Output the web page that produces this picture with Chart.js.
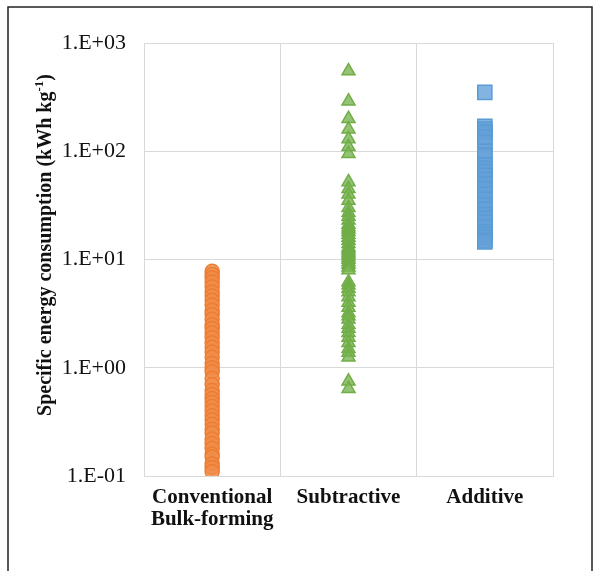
<!DOCTYPE html>
<html lang="en">
  <head>
    <meta charset="UTF-8" />
    <title>Specific energy consumption</title>
    <script src="https://cdn.jsdelivr.net/npm/chart.js@4.4.1/dist/chart.umd.min.js"></script>
    <style>
      html, body { margin: 0; padding: 0; background: #fff; }
    </style>
  </head>
  <body>
    <canvas id="chart" width="600" height="571"></canvas>
    <script>
      // categories and tick labels
      const categories = ['Conventional Bulk-forming', 'Subtractive', 'Additive'];
      const categoryLabels = [['Conventional', 'Bulk-forming'], 'Subtractive', 'Additive'];
      const yTickValues = [0.1, 1, 10, 100, 1000];
      const yTickLabels = ['1.E-01', '1.E+00', '1.E+01', '1.E+02', '1.E+03'];

      // values (kWh/kg)
      const bulkForming = [7.8, 7.3, 6.8, 6.2, 5.6, 5.0, 4.6, 4.2, 3.8, 3.4, 3.1, 2.8, 2.5, 2.3,
        2.1, 1.9, 1.7, 1.55, 1.4, 1.25, 1.1, 1.0, 0.92, 0.8, 0.7, 0.62, 0.57, 0.52, 0.48, 0.44,
        0.4, 0.36, 0.33, 0.3, 0.27, 0.25, 0.22, 0.2, 0.18, 0.16, 0.15, 0.13, 0.12, 0.11];
      const subtractive = [550, 290, 200, 160, 130, 110, 95, 52, 45, 40, 35, 30, 27, 25, 23, 21,
        20, 19, 18, 17, 16, 15, 14, 13, 12.5, 12, 11.5, 11, 10.5, 10, 9.5, 9, 8.5, 8, 6.2, 5.8,
        5.4, 5.0, 4.5, 4.0, 3.6, 3.2, 3.0, 2.8, 2.5, 2.3, 2.1, 1.9, 1.7, 1.5, 1.38, 1.25, 0.75, 0.64];
      const additive = [350, 170, 160, 150, 135, 120, 100, 92, 75, 70, 65, 60, 55, 50, 45, 40, 36,
        32, 29, 26, 24, 22, 20, 18, 17, 16, 15, 14.5];

      const serif = "'Liberation Serif', 'Times New Roman', serif";

      function toPoints(cat, values) {
        return values.map(v => ({ x: cat, y: v }));
      }

      // outer frame + rotated y title with superscript
      const decorations = {
        id: 'decorations',
        beforeDraw(chart) {
          const c = chart.ctx;
          c.save();
          c.fillStyle = '#fff';
          c.fillRect(0, 0, chart.width, chart.height);
          c.restore();
        },
        afterDraw(chart) {
          const c = chart.ctx;
          c.save();
          c.strokeStyle = '#222';
          c.lineWidth = 1.5;
          c.beginPath();
          c.moveTo(8, 600);
          c.lineTo(8, 7);
          c.lineTo(592, 7);
          c.lineTo(592, 600);
          c.stroke();

          c.translate(46, 245);
          c.rotate(-Math.PI / 2);
          c.fillStyle = '#111';
          c.textBaseline = 'middle';
          const main = 'Specific energy consumption (kWh kg';
          const sup = '-1';
          const close = ')';
          c.font = 'bold 20px ' + serif;
          const w1 = c.measureText(main).width;
          const w3 = c.measureText(close).width;
          c.font = 'bold 13px ' + serif;
          const w2 = c.measureText(sup).width;
          let x = -(w1 + w2 + w3) / 2;
          c.font = 'bold 20px ' + serif;
          c.fillText(main, x, 0);
          x += w1;
          c.font = 'bold 13px ' + serif;
          c.fillText(sup, x, -6);
          x += w2;
          c.font = 'bold 20px ' + serif;
          c.fillText(close, x, 0);
          c.restore();
        }
      };

      const ctx = document.getElementById('chart').getContext('2d');
      const chart = new Chart(ctx, {
        type: 'scatter',
        data: {
          labels: categories,
          datasets: [
            {
              label: 'Conventional Bulk-forming',
              data: toPoints(categories[0], bulkForming),
              pointStyle: 'circle',
              pointRadius: 7,
              borderColor: '#ED7D31',
              backgroundColor: 'rgba(240, 140, 72, 0.8)',
              borderWidth: 1.5,
            },
            {
              label: 'Subtractive',
              data: toPoints(categories[1], subtractive),
              pointStyle: 'triangle',
              pointRadius: 7.5,
              borderColor: '#70AD47',
              backgroundColor: 'rgba(120, 180, 80, 0.8)',
              borderWidth: 1.5,
            },
            {
              label: 'Additive',
              data: toPoints(categories[2], additive),
              pointStyle: 'rect',
              pointRadius: 10,
              borderColor: '#5B9BD5',
              backgroundColor: 'rgba(100, 160, 216, 0.8)',
              borderWidth: 1.5,
            },
          ],
        },
        options: {
          responsive: false,
          animation: false,
          layout: { padding: { left: 0, right: 47, top: 43, bottom: 0 } },
          plugins: {
            legend: { display: false },
            tooltip: { enabled: false },
          },
          scales: {
            x: {
              type: 'category',
              labels: categories,
              offset: true,
              grid: { offset: true, color: '#d9d9d9', drawTicks: false },
              border: { color: '#d9d9d9' },
              ticks: {
                padding: 11,
                color: '#111',
                maxRotation: 0,
                font: { family: serif, size: 21, weight: 'bold', lineHeight: 1.05 },
                callback: (v, i) => categoryLabels[i],
              },
              afterFit: s => { s.height = 95; },
            },
            y: {
              type: 'logarithmic',
              min: 0.1,
              max: 1000,
              afterBuildTicks: s => { s.ticks = yTickValues.map(v => ({ value: v })); },
              grid: { color: '#d9d9d9', drawTicks: false },
              border: { color: '#d9d9d9' },
              ticks: {
                padding: 18,
                color: '#111',
                font: { family: serif, size: 22 },
                callback: v => yTickLabels[yTickValues.indexOf(v)],
              },
              afterFit: s => { s.width = 144; },
            },
          },
        },
        plugins: [decorations],
      });
    </script>
  </body>
</html>
